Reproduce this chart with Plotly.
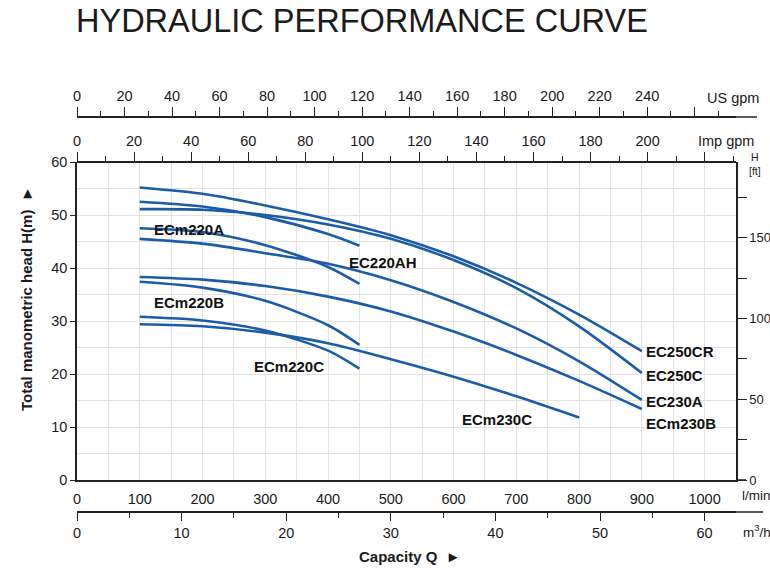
import plotly.graph_objects as go

# ---------------- data ----------------
q_long = [100, 200, 300, 400, 500, 600, 700, 800, 900]      # l/min
q_mid = [100, 200, 300, 400, 500, 600, 700, 800]
q_short = [100, 200, 300, 400, 450]

ec250cr_h = [55.2, 54.0, 51.8, 49.2, 46.2, 42.2, 37.2, 31.2, 24.3]
ec250c_h = [51.1, 51.0, 50.0, 48.2, 45.5, 41.5, 36.2, 29.0, 20.2]
ec230a_h = [45.5, 44.6, 42.8, 40.8, 37.7, 33.6, 28.6, 22.4, 15.1]
ecm230b_h = [38.3, 37.8, 36.6, 34.6, 31.8, 28.0, 23.6, 18.7, 13.4]
ecm230c_h = [29.4, 29.0, 27.8, 25.8, 22.8, 19.5, 15.8, 11.8]
ec220ah_h = [52.5, 51.6, 49.6, 46.4, 44.2]
ecm220a_h = [47.5, 46.8, 44.3, 40.2, 37.0]
ecm220b_h = [37.4, 36.3, 33.8, 29.2, 25.5]
ecm220c_h = [30.8, 30.1, 28.2, 24.4, 21.0]

curve_names = ["EC250CR", "EC250C", "EC230A", "ECm230B", "ECm230C",
               "EC220AH", "ECm220A", "ECm220B", "ECm220C"]
curve_q = [q_long, q_long, q_long, q_long, q_mid, q_short, q_short, q_short, q_short]
curve_h = [ec250cr_h, ec250c_h, ec230a_h, ecm230b_h, ecm230c_h,
           ec220ah_h, ecm220a_h, ecm220b_h, ecm220c_h]

lpm_ticks = list(range(0, 1001, 100))
h_m_ticks = list(range(0, 61, 10))
h_ft_ticks = list(range(0, 176, 25))
h_ft_text = ["0", "", "50", "", "100", "", "150", ""]
us_ticks = list(range(0, 261, 20))
us_text = [str(v) for v in range(0, 241, 20)] + [""]
imp_ticks = list(range(0, 221, 20))
imp_text = [str(v) for v in range(0, 201, 20)] + [""]
m3h_ticks = list(range(0, 61, 10))

# label anchor points (l/min, m)
label_pos = {
    "ECm220A": (119, 47.2), "EC220AH": (430, 41.1), "ECm220B": (119, 33.4),
    "ECm220C": (279, 21.5), "ECm230C": (611, 11.5), "EC250CR": (904, 24.2),
    "EC250C": (904, 19.8), "EC230A": (904, 14.9), "ECm230B": (904, 10.6),
}

# ---------------- style / geometry ----------------
W, H = 770, 570
L_PX, R_PX, TOP_PX, BOT_PX = 77, 736, 117, 512
PLOT_TOP, PLOT_BOT = 162, 480
Q_MAX = 1050
LPM_PER_US = 3.78541
LPM_PER_IMP = 4.54609
LPM_PER_M3H = 1000 / 60
FT = 0.3048

BLUE = "#1b5ca8"
AX = "#222222"
GRID = "#e3e3e3"
FONT = "Liberation Sans, Arial, sans-serif"
TF = dict(family=FONT, size=14.5, color="#1a1a1a")

pw = R_PX - L_PX
ph = BOT_PX - TOP_PX


def px_x(x):
    return (x - L_PX) / pw


def px_y(y):
    return (BOT_PX - y) / ph


y_dom = [px_y(PLOT_BOT), px_y(PLOT_TOP)]

fig = go.Figure()
for name, q, h in zip(curve_names, curve_q, curve_h):
    fig.add_trace(go.Scatter(x=q, y=h, mode="lines", name=name,
                             line=dict(color=BLUE, width=2.6, shape="spline", smoothing=0.8),
                             showlegend=False, hoverinfo="skip"))

# dummy traces so the extra axes are drawn
for xa, ya in [("x2", "y"), ("x3", "y"), ("x4", "y"), ("x", "y2")]:
    fig.add_trace(go.Scatter(x=[None], y=[None], xaxis=xa, yaxis=ya,
                             showlegend=False, hoverinfo="skip"))

line_common = dict(showline=True, linecolor=AX, linewidth=1.5, zeroline=False,
                   fixedrange=True, automargin=False)

fig.update_layout(
    width=W, height=H,
    margin=dict(l=L_PX, r=W - R_PX, t=TOP_PX, b=H - BOT_PX, autoexpand=False),
    paper_bgcolor="white", plot_bgcolor="white",
    xaxis=dict(domain=[0, 1], range=[0, Q_MAX], anchor="y", side="bottom",
               tickmode="array", tickvals=lpm_ticks, tickfont=TF,
               ticks="outside", ticklen=5, tickcolor="rgba(0,0,0,0)",
               showgrid=True, gridcolor=GRID, gridwidth=1,
               minor=dict(dtick=50, tick0=0, showgrid=True, gridcolor=GRID, gridwidth=1),
               **line_common),
    yaxis=dict(domain=y_dom, range=[0, 60], anchor="x", tickmode="array", tickvals=h_m_ticks,
               tickfont=TF, ticks="outside", ticklen=5, tickcolor=AX,
               showgrid=True, gridcolor=GRID, gridwidth=1,
               minor=dict(dtick=5, tick0=0, showgrid=True, gridcolor=GRID, gridwidth=1),
               **line_common),
    yaxis2=dict(overlaying="y", side="right", anchor="x", range=[0, 60 / FT],
                tickmode="array", tickvals=h_ft_ticks, ticktext=h_ft_text,
                tickfont=dict(family=FONT, size=13, color="#1a1a1a"),
                ticks="outside", ticklen=9, tickcolor=AX, showgrid=False, **line_common),
    xaxis2=dict(overlaying="x", anchor="free", position=y_dom[1], side="top",
                range=[0, Q_MAX / LPM_PER_IMP], tickmode="array", tickfont=TF,
                tickvals=imp_ticks, ticktext=imp_text, ticks="outside", ticklen=9, tickcolor=AX,
                minor=dict(dtick=10, tick0=0, ticks="outside", ticklen=5, tickcolor=AX),
                showgrid=False, **line_common),
    xaxis3=dict(overlaying="x", anchor="free", position=1, side="top",
                range=[0, Q_MAX / LPM_PER_US], tickmode="array", tickfont=TF,
                tickvals=us_ticks, ticktext=us_text, ticks="outside", ticklen=9, tickcolor=AX,
                minor=dict(dtick=10, tick0=0, ticks="outside", ticklen=5, tickcolor=AX),
                showgrid=False, **line_common),
    xaxis4=dict(overlaying="x", anchor="free", position=0, side="bottom",
                range=[0, Q_MAX / LPM_PER_M3H], tickmode="array", tickfont=TF,
                tickvals=m3h_ticks, ticks="outside", ticklen=8, tickcolor=AX,
                minor=dict(dtick=5, tick0=0, ticks="outside", ticklen=5, tickcolor=AX),
                showgrid=False, **line_common),
)

# axis line extensions
for y_px, x_end in [(TOP_PX, 757), (BOT_PX, 763), (PLOT_BOT, 746)]:
    fig.add_shape(type="line", xref="paper", yref="paper",
                  x0=1, x1=px_x(x_end), y0=px_y(y_px), y1=px_y(y_px),
                  line=dict(color=AX, width=1.5))

# curve labels
for name, (qx, hy) in label_pos.items():
    fig.add_annotation(x=qx, y=hy, xref="x", yref="y", text="<b>%s</b>" % name,
                       showarrow=False, xanchor="left", yanchor="middle",
                       font=dict(family=FONT, size=15, color="#111"))


def ann(text, x, y, size=14.5, xanchor="left", angle=0, bold=False):
    fig.add_annotation(x=px_x(x), y=px_y(y), xref="paper", yref="paper",
                       text=("<b>%s</b>" % text) if bold else text, showarrow=False,
                       xanchor=xanchor, yanchor="middle", textangle=angle,
                       font=dict(family=FONT, size=size, color="#1a1a1a"))


ann("US gpm", 705, 98)
ann("Imp gpm", 696, 141)
ann("H<br>[ft]", 755, 164, size=10.5, xanchor="center")
ann("l/min", 740, 495, size=13.5)
ann("m<sup>3</sup>/h", 741, 531, size=13.5)
ann("Capacity Q  ►", 410, 556, size=15, xanchor="center", bold=True)
ann("Total manometric head H(m)  ►", 26, 299, size=15, xanchor="center", angle=-90, bold=True)
ann("HYDRAULIC PERFORMANCE CURVE", 74, 21, size=32.5, xanchor="left")

fig.write_html("out.html")
